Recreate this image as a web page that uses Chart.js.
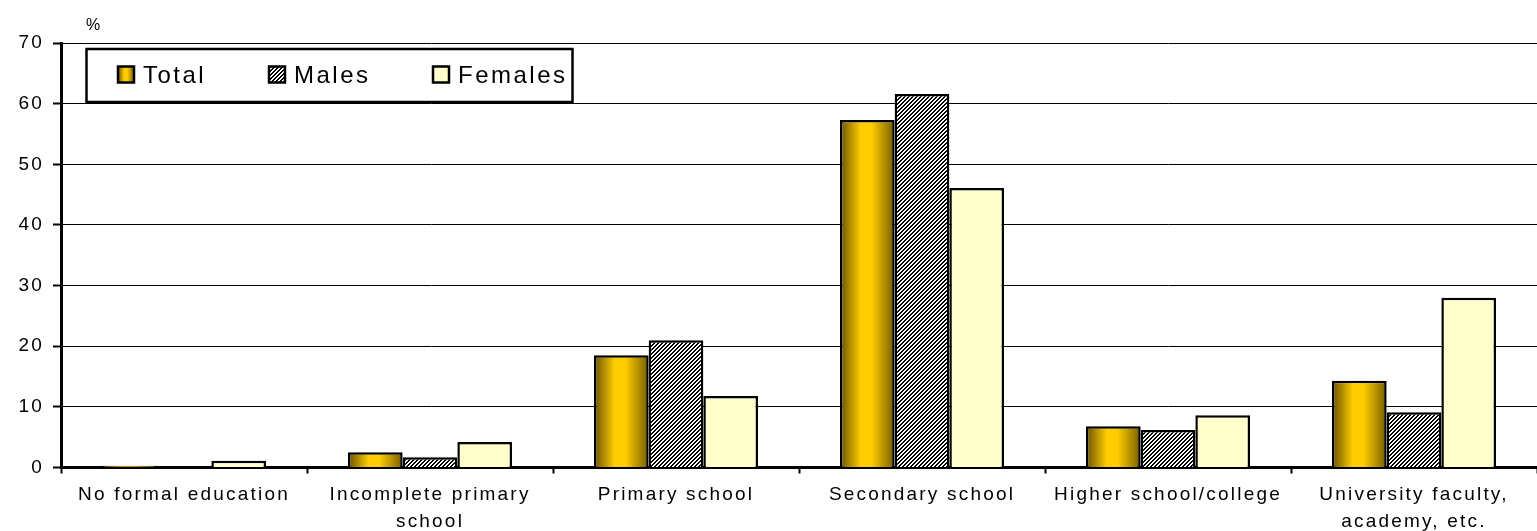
<!DOCTYPE html>
<html>
<head>
<meta charset="utf-8">
<script src="https://cdn.jsdelivr.net/npm/chart.js@4.4.1/dist/chart.umd.min.js"></script>
<style>
  html, body { margin: 0; padding: 0; background: #fff; }
  #wrap { width: 1537px; height: 531px; }
</style>
</head>
<body>
<div id="wrap"><canvas id="c" width="1537" height="531"></canvas></div>
<script>
// ---- data ----
const categories = [
  'No formal education',
  ['Incomplete primary', 'school'],
  'Primary school',
  'Secondary school',
  'Higher school/college',
  ['University faculty,', 'academy, etc.']
];
const seriesNames = ['Total', 'Males', 'Females'];
const totalValues   = [0.3, 2.5, 18.5, 57.3, 6.8, 14.3];
const malesValues   = [0.0, 1.7, 21.0, 61.6, 6.2, 9.1];
const femalesValues = [1.1, 4.2, 11.8, 46.1, 8.6, 28.0];
const yTicks = [0, 10, 20, 30, 40, 50, 60, 70];
const yUnit = '%';

// ---- styles ----
const FONT = '"Liberation Sans", Arial, sans-serif';
const CAT_PCT = 0.667;

function goldGradient(ctx, left, width) {
  const g = ctx.createLinearGradient(left, 0, left + width, 0);
  g.addColorStop(0, '#665000');
  g.addColorStop(0.38, '#ffcc00');
  g.addColorStop(0.58, '#ffcc00');
  g.addColorStop(1, '#735d00');
  return g;
}

function hatchPattern(ctx) {
  const n = 4;
  const p = document.createElement('canvas');
  p.width = n; p.height = n;
  const pc = p.getContext('2d');
  const img = pc.createImageData(n, n);
  for (let y = 0; y < n; y++) {
    for (let x = 0; x < n; x++) {
      const k = (x + y) % n;
      const v = (k === 0 || k === 1) ? 0 : 255;
      const i = (y * n + x) * 4;
      img.data[i] = v; img.data[i + 1] = v; img.data[i + 2] = v; img.data[i + 3] = 255;
    }
  }
  pc.putImageData(img, 0, 0);
  return ctx.createPattern(p, 'repeat');
}

const canvas = document.getElementById('c');
const ctx0 = canvas.getContext('2d');
const HATCH = hatchPattern(ctx0);

function totalFill(c) {
  const chart = c.chart;
  const xs = chart.scales && chart.scales.x;
  if (!xs || c.type !== 'data') return '#ffcc00';
  const catW = (xs.right - xs.left) / categories.length;
  const center = xs.getPixelForValue(c.dataIndex);
  const groupW = catW * CAT_PCT;
  const barW = groupW / seriesNames.length;
  const left = center - groupW / 2;
  if (!Number.isFinite(left) || !Number.isFinite(barW) || barW <= 0) return '#ffcc00';
  return goldGradient(chart.ctx, left, barW);
}

const spacingPlugin = {
  id: 'spacing',
  beforeLayout(chart) { chart.ctx.letterSpacing = '2.2px'; },
  beforeDraw(chart) { chart.ctx.letterSpacing = '2.2px'; }
};

const legendPlugin = {
  id: 'boxLegend',
  afterDraw(chart) {
    const ctx = chart.ctx;
    const a = chart.chartArea;
    ctx.save();
    // unit label
    ctx.letterSpacing = '0px';
    ctx.fillStyle = '#000';
    ctx.font = '16px ' + FONT;
    ctx.textBaseline = 'alphabetic';
    ctx.textAlign = 'left';
    ctx.fillText(yUnit, a.left + 25, 30);

    // legend box
    const bx = a.left + 25.5, by = a.top + 6, bw = 486, bh = 53;
    ctx.fillStyle = '#fff';
    ctx.fillRect(bx, by, bw, bh);
    ctx.strokeStyle = '#000';
    ctx.lineWidth = 2.5;
    ctx.strokeRect(bx, by, bw, bh);

    const swX = [a.left + 57, a.left + 208, a.left + 372];
    const sw = 16;
    const sy = by + 17.5;
    ctx.font = '24px ' + FONT;
    ctx.letterSpacing = '2.5px';
    seriesNames.forEach((name, i) => {
      const x = swX[i];
      if (i === 0) ctx.fillStyle = goldGradient(ctx, x, sw);
      else if (i === 1) ctx.fillStyle = HATCH;
      else ctx.fillStyle = '#ffffcc';
      ctx.fillRect(x, sy, sw, sw);
      ctx.lineWidth = 2.5;
      ctx.strokeStyle = '#000';
      ctx.strokeRect(x, sy, sw, sw);
      ctx.fillStyle = '#000';
      ctx.fillText(name, x + sw + 9, by + 34);
    });
    ctx.restore();
  }
};

const common = {
  borderColor: '#000',
  borderWidth: 2.5,
  borderSkipped: 'start',
  categoryPercentage: CAT_PCT,
  barPercentage: 1.0
};

new Chart(canvas, {
  type: 'bar',
  data: {
    labels: categories,
    datasets: [
      Object.assign({ label: seriesNames[0], data: totalValues, backgroundColor: totalFill }, common),
      Object.assign({ label: seriesNames[1], data: malesValues, backgroundColor: HATCH }, common),
      Object.assign({ label: seriesNames[2], data: femalesValues, backgroundColor: '#ffffcc' }, common)
    ]
  },
  options: {
    responsive: false,
    animation: false,
    devicePixelRatio: 1,
    layout: { padding: { top: 43, right: 0, left: 0, bottom: 0 } },
    plugins: {
      legend: { display: false },
      tooltip: { enabled: false },
      title: { display: false }
    },
    scales: {
      x: {
        grid: {
          display: true,
          offset: true,
          drawOnChartArea: false,
          drawTicks: true,
          tickLength: 6,
          tickWidth: 2,
          tickColor: '#000'
        },
        border: { display: true, color: '#000', width: 3 },
        ticks: {
          color: '#000',
          font: { family: FONT, size: 19, lineHeight: 1.4 },
          padding: 8,
          maxRotation: 0,
          autoSkip: false
        },
        afterFit(s) { s.height = 63.5; }
      },
      y: {
        min: yTicks[0],
        max: yTicks[yTicks.length - 1],
        afterBuildTicks(s) { s.ticks = yTicks.map(v => ({ value: v })); },
        grid: {
          color: '#000',
          lineWidth: 1,
          drawTicks: true,
          tickLength: 8,
          tickWidth: 2,
          tickColor: '#000'
        },
        border: { display: true, color: '#000', width: 3 },
        ticks: {
          color: '#000',
          font: { family: FONT, size: 19 },
          padding: 9
        },
        afterFit(s) { s.width = 61; }
      }
    }
  },
  plugins: [spacingPlugin, legendPlugin]
});
</script>
</body>
</html>
